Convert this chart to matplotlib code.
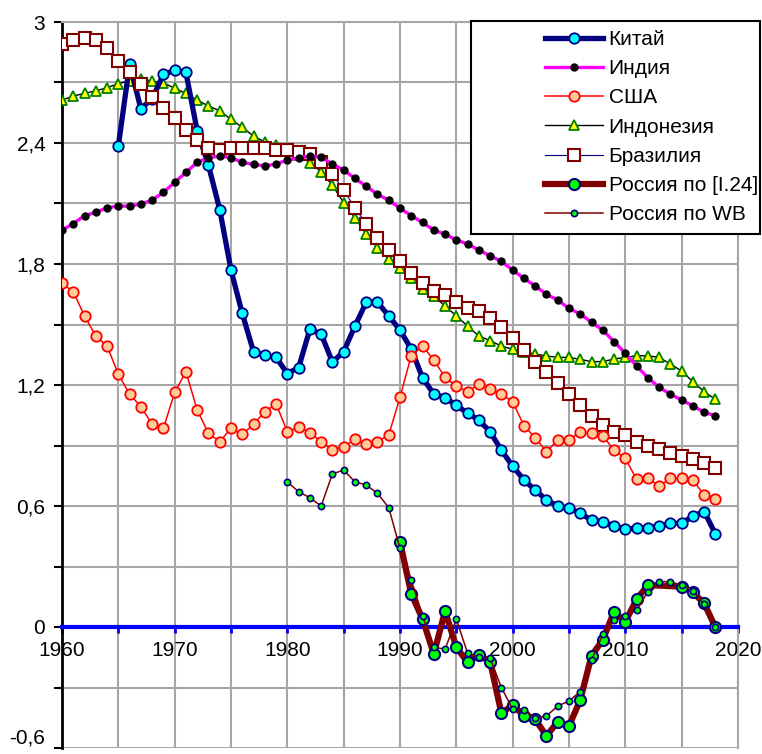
import matplotlib.pyplot as plt
from matplotlib.patches import Rectangle

plt.rcParams['font.family'] = ['Liberation Sans', 'DejaVu Sans']

# Data
china_years = list(range(1965, 2019))
china = [2.385, 2.79, 2.57, 2.62, 2.74, 2.76, 2.75, 2.46, 2.29, 2.07,
         1.77, 1.555, 1.365, 1.347, 1.337, 1.257, 1.286, 1.476, 1.453, 1.314,
         1.365, 1.492, 1.61, 1.61, 1.543, 1.472, 1.378, 1.236, 1.155, 1.137,
         1.10, 1.06, 1.026, 0.968, 0.876, 0.798, 0.729, 0.679, 0.63, 0.60,
         0.588, 0.564, 0.53, 0.522, 0.50, 0.487, 0.489, 0.492, 0.50, 0.514,
         0.514, 0.55, 0.572, 0.461]

years = list(range(1960, 2019))
india = [1.968, 2.0, 2.04, 2.056, 2.079, 2.087, 2.087, 2.097, 2.117, 2.155,
         2.205, 2.254, 2.304, 2.327, 2.335, 2.327, 2.304, 2.294, 2.286, 2.296,
         2.315, 2.325, 2.335, 2.33, 2.296, 2.266, 2.224, 2.186, 2.145, 2.117,
         2.076, 2.04, 2.006, 1.968, 1.948, 1.919, 1.899, 1.869, 1.841, 1.813,
         1.77, 1.729, 1.691, 1.65, 1.621, 1.58, 1.552, 1.511, 1.472, 1.415,
         1.357, 1.294, 1.236, 1.188, 1.155, 1.125, 1.097, 1.064, 1.048]
usa = [1.704, 1.663, 1.542, 1.443, 1.393, 1.254, 1.155, 1.092, 1.006, 0.985,
       1.163, 1.266, 1.076, 0.96, 0.919, 0.985, 0.955, 1.006, 1.067, 1.107,
       0.968, 0.99, 0.964, 0.919, 0.88, 0.894, 0.93, 0.906, 0.919, 0.952,
       1.139, 1.346, 1.393, 1.324, 1.238, 1.195, 1.167, 1.205, 1.178, 1.155,
       1.117, 0.998, 0.939, 0.869, 0.927, 0.927, 0.968, 0.96, 0.947, 0.878,
       0.836, 0.732, 0.737, 0.699, 0.737, 0.737, 0.729, 0.654, 0.636]
indonesia = [2.613, 2.633, 2.646, 2.659, 2.674, 2.695, 2.707, 2.717, 2.707, 2.699,
             2.671, 2.646, 2.613, 2.583, 2.56, 2.517, 2.478, 2.434, 2.406, 2.39,
             2.37, 2.34, 2.302, 2.258, 2.19, 2.104, 2.029, 1.948, 1.88, 1.823,
             1.778, 1.729, 1.674, 1.641, 1.591, 1.543, 1.492, 1.443, 1.42, 1.393,
             1.377, 1.365, 1.353, 1.344, 1.337, 1.337, 1.327, 1.316, 1.316, 1.329,
             1.337, 1.345, 1.345, 1.337, 1.304, 1.269, 1.216, 1.167, 1.129]
brazil = [2.89, 2.91, 2.919, 2.91, 2.869, 2.808, 2.75, 2.692, 2.629, 2.572,
          2.522, 2.464, 2.414, 2.373, 2.365, 2.373, 2.373, 2.376, 2.376, 2.365,
          2.365, 2.357, 2.345, 2.307, 2.244, 2.167, 2.079, 1.998, 1.927, 1.869,
          1.813, 1.757, 1.704, 1.667, 1.646, 1.613, 1.58, 1.568, 1.53, 1.486,
          1.435, 1.375, 1.316, 1.266, 1.208, 1.155, 1.10, 1.048, 1.001, 0.968,
          0.952, 0.919, 0.897, 0.881, 0.864, 0.848, 0.831, 0.811, 0.786]

rus_i24_years = list(range(1990, 2013)) + [2015, 2016, 2017, 2018]
rus_i24 = [0.423, 0.164, 0.04, -0.134, 0.079, -0.10, -0.175, -0.139, -0.172, -0.428,
           -0.387, -0.44, -0.458, -0.54, -0.47, -0.491, -0.362, -0.142, -0.064, 0.076,
           0.026, 0.137, 0.208, 0.20, 0.172, 0.117, -0.002]

rus_wb_years = list(range(1980, 2019))
rus_wb = [0.72, 0.671, 0.641, 0.60, 0.759, 0.778, 0.72, 0.704, 0.663, 0.592,
          0.39, 0.233, 0.056, -0.10, -0.11, 0.038, -0.13, -0.15, -0.155, -0.30,
          -0.408, -0.41, -0.453, -0.441, -0.392, -0.367, -0.32, -0.164, -0.037, 0.035,
          0.056, 0.084, 0.175, 0.225, 0.225, 0.207, 0.18, 0.114, -0.002]

x_labels = ['1960', '1970', '1980', '1990', '2000', '2010', '2020']
y_ticks = [-0.6, 0, 0.6, 1.2, 1.8, 2.4, 3]
y_labels = ['-0,6', '0', '0,6', '1,2', '1,8', '2,4', '3']

fig = plt.figure(figsize=(7.62, 7.54), dpi=100)
ax = fig.add_axes([62 / 762, 6 / 754, 676 / 762, 726 / 754])

# Series (drawing order roughly as in the original)
l_ind, = ax.plot(years, indonesia, color='black', lw=1.0, marker='^', ms=6.5,
                 mfc='#FFFF00', mec='#008000', mew=1.3, zorder=3)
l_chn, = ax.plot(china_years, china, color='#000080', lw=3.8, marker='o', ms=7.5,
                 mfc='#00FFFF', mec='#000080', mew=1.3, zorder=4)
l_bra, = ax.plot(years, brazil, color='#000080', lw=0.8, marker='s', ms=8.5,
                 mfc='white', mec='#800000', mew=1.5, zorder=5)
l_inda, = ax.plot(years, india, color='#FF00FF', lw=2.4, marker='o', ms=5,
                  mfc='black', mec='black', zorder=6)
l_usa, = ax.plot(years, usa, color='#FF0000', lw=1.1, marker='o', ms=7.5,
                 mfc='#FFCC99', mec='#FF0000', mew=1.3, zorder=6)
l_r24, = ax.plot(rus_i24_years, rus_i24, color='#800000', lw=4.5, marker='o', ms=8,
                 mfc='#00FF00', mec='#000080', mew=1.5, zorder=7)
l_rwb, = ax.plot(rus_wb_years, rus_wb, color='#800000', lw=1.1, marker='o', ms=4.5,
                 mfc='#00FF00', mec='#000080', mew=1.2, zorder=8)

ax.set_xlim(1960, 2020)
ax.set_ylim(-0.6, 3)

ax.set_xticks(range(1960, 2021, 10))
ax.set_xticks(range(1965, 2020, 10), minor=True)
ax.set_xticklabels(x_labels)
ax.set_yticks(y_ticks)
ax.set_yticks([-0.3, 0.3, 0.9, 1.5, 2.1, 2.7], minor=True)
ax.set_yticklabels(y_labels)
# keep the lowest label inside the picture
ax.get_yticklabels()[0].set_va('bottom')

ax.grid(True, which='both', color='#A6A6A6', lw=1.5)
ax.set_axisbelow(True)

ax.spines['bottom'].set_position(('data', 0))
ax.spines['bottom'].set_color('#0000FF')
ax.spines['bottom'].set_linewidth(3)
ax.spines['bottom'].set_zorder(2.5)
ax.spines['left'].set_color('black')
ax.spines['left'].set_linewidth(2)
ax.spines['top'].set_color('#A6A6A6')
ax.spines['right'].set_color('#A6A6A6')
ax.spines['top'].set_linewidth(1.5)
ax.spines['right'].set_linewidth(1.5)

ax.tick_params(axis='x', which='both', direction='out', length=4, width=2,
               color='#0000FF', labelsize=15, pad=6)
ax.tick_params(axis='y', which='both', direction='out', length=6, width=1.5,
               color='black', labelsize=15, pad=6)

# Legend box (extends past the plot area as in the original)
fig.patches.append(Rectangle((471 / 762, 1 - 234 / 754), 289 / 762, 213 / 754,
                             transform=fig.transFigure, facecolor='white',
                             edgecolor='black', lw=1.5, zorder=1))
handles = [l_chn, l_inda, l_usa, l_ind, l_bra, l_r24, l_rwb]
labels = ['Китай', 'Индия', 'США', 'Индонезия', 'Бразилия',
          'Россия по [I.24]', 'Россия по WB']
fig.legend(handles, labels, loc='upper left',
           bbox_to_anchor=(545 / 762, 1 - 30 / 754), frameon=False,
           fontsize=15, numpoints=1, handlelength=2.8, handletextpad=0.25,
           labelspacing=0.49, borderpad=0, borderaxespad=0)

plt.savefig('out.png', dpi=100)
